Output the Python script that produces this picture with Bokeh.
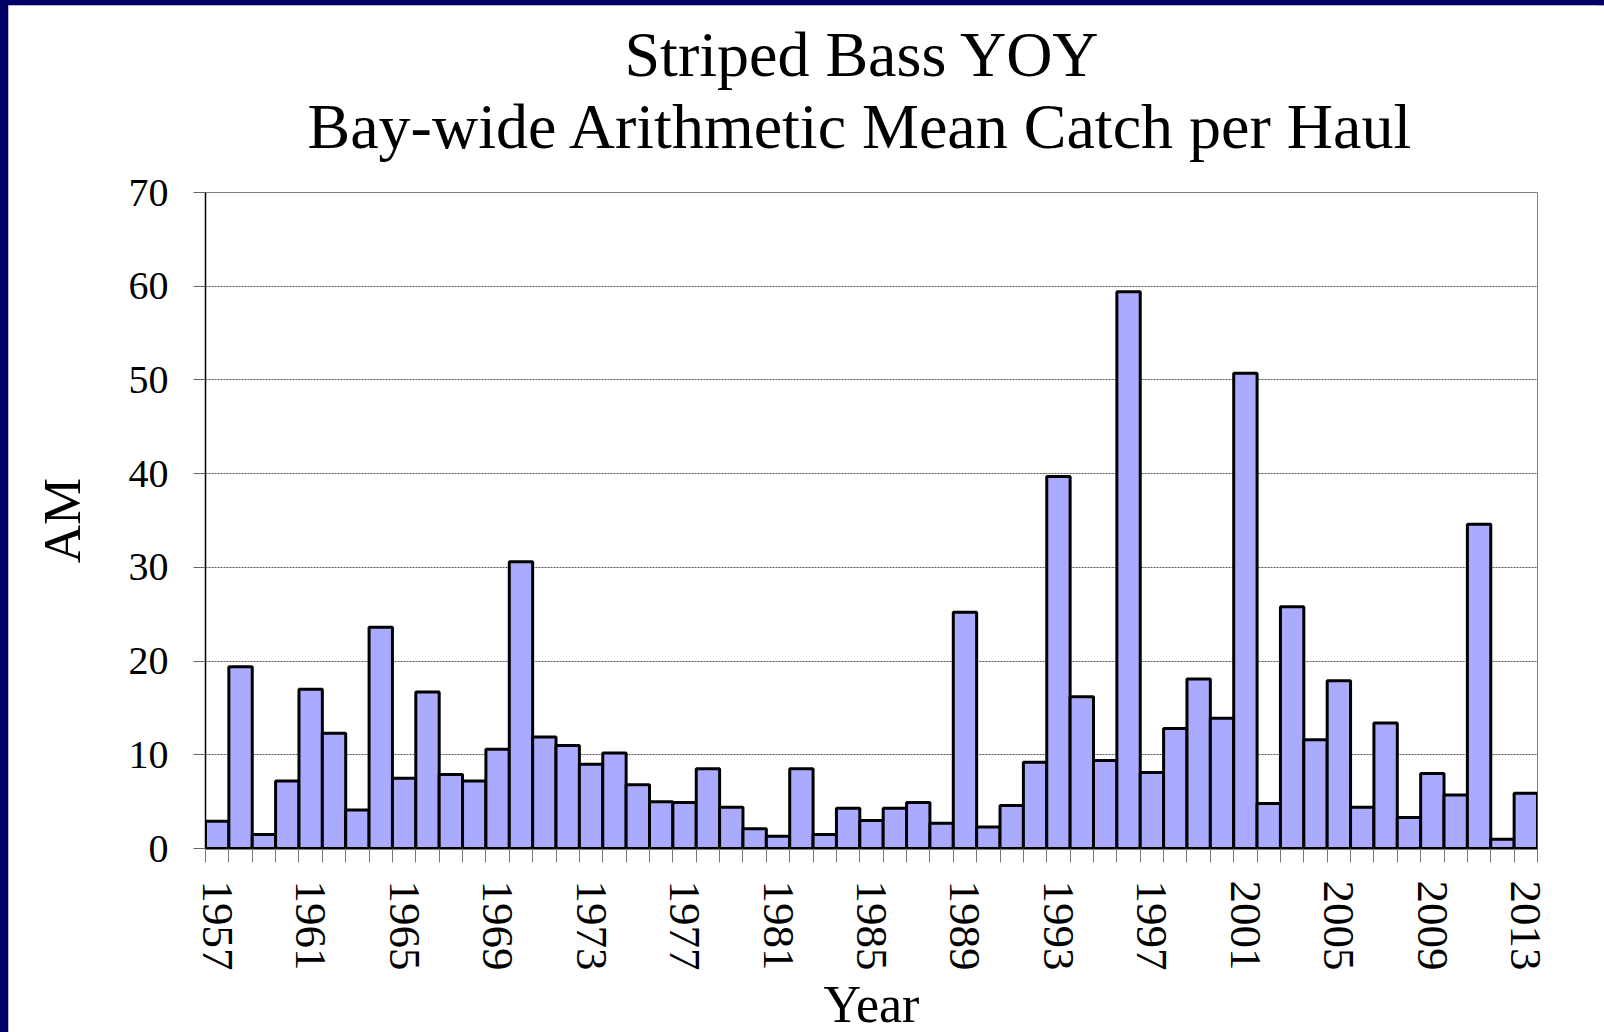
import math
from bokeh.plotting import figure
from bokeh.models import Title, FixedTicker, Range1d, ColumnDataSource
from bokeh.embed import file_html
from bokeh.resources import INLINE

years = list(range(1957, 2014))
am_values = [2.9, 19.4, 1.5, 7.2, 17.0, 12.3, 4.1, 23.6, 7.5, 16.7,
             7.9, 7.2, 10.6, 30.6, 11.9, 11.0, 9.0, 10.2, 6.8, 5.0,
             4.9, 8.5, 4.4, 2.1, 1.3, 8.5, 1.5, 4.3, 3.0, 4.3,
             4.9, 2.7, 25.2, 2.3, 4.6, 9.2, 39.7, 16.2, 9.4, 59.4,
             8.1, 12.8, 18.1, 13.9, 50.7, 4.8, 25.8, 11.6, 17.9, 4.4,
             13.4, 3.3, 8.0, 5.7, 34.6, 1.0, 5.9]
label_years = list(range(1957, 2014, 4))
y_ticks = [0, 10, 20, 30, 40, 50, 60, 70]
title_line1 = "Striped Bass YOY"
title_line2 = "Bay-wide Arithmetic Mean Catch per Haul"

FONT = "Liberation Serif"

src = ColumnDataSource(dict(year=years, am=am_values))

p = figure(frame_width=1332, frame_height=656,
           min_border_left=197, min_border_right=60,
           min_border_top=187, min_border_bottom=180,
           output_backend="svg", toolbar_location=None,
           x_range=Range1d(years[0] - 0.5, years[-1] + 0.5),
           y_range=Range1d(0, 70),
           background_fill_color="white", border_fill_color="white")
p.title = None

t2 = Title(text=title_line2, align="left", offset=102, standoff=61,
           text_font=FONT, text_font_size="64px", text_font_style="normal",
           text_color="black")
t1 = Title(text=title_line1, align="left", offset=419, standoff=-62,
           text_font=FONT, text_font_size="64px", text_font_style="normal",
           text_color="black")
p.add_layout(t2, "above")
p.add_layout(t1, "above")

p.vbar(x="year", top="am", width=1.0, bottom=0, source=src,
       fill_color="#aaaaff", line_color="black", line_width=3)

p.outline_line_color = "#808080"
p.outline_line_width = 1

# x axis
xa = p.xaxis[0]
xa.ticker = FixedTicker(ticks=label_years,
                        minor_ticks=[y - 0.5 for y in years] + [years[-1] + 0.5])
xa.major_tick_line_color = None
xa.major_tick_out = 14
xa.major_tick_in = 0
xa.minor_tick_out = 14
xa.minor_tick_in = 0
xa.minor_tick_line_color = "#777777"
xa.minor_tick_line_width = 1
xa.major_label_orientation = -math.pi / 2
xa.major_label_standoff = 18
xa.major_label_text_font = FONT
xa.major_label_text_font_size = "45px"
xa.major_label_text_color = "black"
xa.axis_line_color = "black"
xa.axis_line_width = 2
xa.axis_label = "Year"
xa.axis_label_text_font = FONT
xa.axis_label_text_font_size = "52px"
xa.axis_label_text_font_style = "normal"
xa.axis_label_text_color = "black"
xa.axis_label_standoff = 2

# y axis
ya = p.yaxis[0]
ya.ticker = FixedTicker(ticks=y_ticks)
ya.major_tick_out = 12
ya.major_tick_in = 0
ya.major_tick_line_color = "#666666"
ya.minor_tick_line_color = None
ya.major_label_standoff = 25
ya.major_label_text_font = FONT
ya.major_label_text_font_size = "40px"
ya.major_label_text_color = "black"
ya.axis_line_color = "black"
ya.axis_line_width = 1.5
ya.axis_label = "AM"
ya.axis_label_text_font = FONT
ya.axis_label_text_font_size = "53px"
ya.axis_label_text_font_style = "normal"
ya.axis_label_text_color = "black"
ya.axis_label_standoff = 35

p.xgrid.grid_line_color = None
p.ygrid.ticker = FixedTicker(ticks=y_ticks)
p.ygrid.grid_line_color = "#555555"
p.ygrid.grid_line_width = 1
p.ygrid.grid_line_dash = "2 1"

html = file_html(p, INLINE, title="Striped Bass YOY")
style = ("<style>html,body{overflow:hidden;}"
         "body{margin:0;border-left:8px solid #000066;border-top:5px solid #000066;"
         "box-shadow:inset 1px 1px 0 #a0a0c0;}</style>")
html = html.replace("</head>", style + "</head>", 1)
open("out.html", "w").write(html)
